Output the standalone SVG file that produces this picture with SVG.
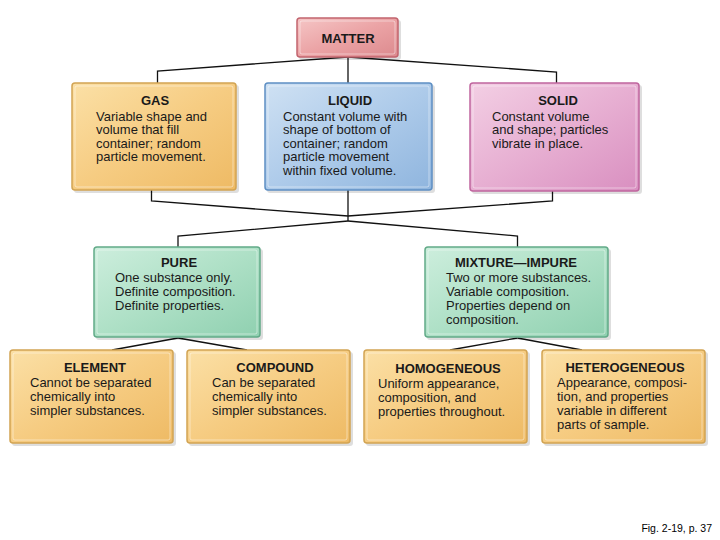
<svg xmlns="http://www.w3.org/2000/svg" width="720" height="540" viewBox="0 0 720 540">
<defs>
<linearGradient id="gY" x1="0" y1="0" x2="1" y2="1">
<stop offset="0" stop-color="#fbe0a6"/><stop offset="0.5" stop-color="#f6cc82"/><stop offset="1" stop-color="#eeba64"/>
</linearGradient>
<linearGradient id="gB" x1="0" y1="0" x2="1" y2="1">
<stop offset="0" stop-color="#cfe1f3"/><stop offset="0.5" stop-color="#aecbea"/><stop offset="1" stop-color="#8fb5de"/>
</linearGradient>
<linearGradient id="gP" x1="0" y1="0" x2="1" y2="1">
<stop offset="0" stop-color="#f3cfe4"/><stop offset="0.5" stop-color="#e7afd2"/><stop offset="1" stop-color="#d98fc0"/>
</linearGradient>
<linearGradient id="gG" x1="0" y1="0" x2="1" y2="1">
<stop offset="0" stop-color="#cdeedd"/><stop offset="0.5" stop-color="#aee0c6"/><stop offset="1" stop-color="#8fd0b0"/>
</linearGradient>
<linearGradient id="gR" x1="0" y1="0" x2="1" y2="1">
<stop offset="0" stop-color="#f5c6c6"/><stop offset="0.5" stop-color="#eba3a5"/><stop offset="1" stop-color="#dc8a8e"/>
</linearGradient>
</defs>
<style>
.sh{fill:#000;opacity:0.13}
.y{fill:url(#gY);stroke:#d2a453;stroke-width:1.5}
.b{fill:url(#gB);stroke:#5d8fc4;stroke-width:1.5}
.p{fill:url(#gP);stroke:#c0659e;stroke-width:1.5}
.g{fill:url(#gG);stroke:#62aa88;stroke-width:1.5}
.r{fill:url(#gR);stroke:#c2646e;stroke-width:1.5}
.in{fill:none;stroke:#fff;stroke-opacity:0.45;stroke-width:1}
text{font-family:"Liberation Sans",Arial,Helvetica,sans-serif;fill:#1a1a1a}
.t{font-size:13px;font-weight:bold;text-anchor:middle}
.d{font-size:13px}
.fig{font-size:10.5px;text-anchor:end;fill:#000}
#connectors path{fill:none;stroke:#111;stroke-width:1.3}
</style>
<rect width="720" height="540" fill="#fff"/>
<g id="connectors">
<path d="M348,57 L157.5,71 L157.5,83"/>
<path d="M348,57 L348,83"/>
<path d="M348,57 L556.5,72 L556.5,83"/>
<path d="M151.5,190 L151.5,201 L348,216"/>
<path d="M552.5,191 L552.5,201 L348,216"/>
<path d="M348,190 L348,221"/>
<path d="M348,221 L178,236 L178,247"/>
<path d="M348,221 L517.5,236 L517.5,247"/>
<path d="M178,338 L112,350"/>
<path d="M178,338 L247,350"/>
<path d="M517.5,338 L450,350"/>
<path d="M517.5,338 L582,350"/>
</g>
<g id="matter">
<rect class="sh" x="299" y="20" width="102" height="40" rx="3"/>
<rect class="r" x="297" y="18" width="101" height="39" rx="3"/>
<rect class="in" x="300" y="21" width="95" height="33" rx="2"/>
<text class="t" x="348" y="43">MATTER</text>
</g>
<g id="gas">
<rect class="sh" x="74" y="85" width="165" height="108" rx="3"/>
<rect class="y" x="72" y="83" width="164" height="107" rx="3"/>
<rect class="in" x="75" y="86" width="158" height="101" rx="2"/>
<text class="t" x="155" y="105">GAS</text>
<text class="d" x="96" y="120.5">Variable shape and</text>
<text class="d" x="96" y="134">volume that fill</text>
<text class="d" x="96" y="147.5">container; random</text>
<text class="d" x="96" y="161">particle movement.</text>
</g>
<g id="liquid">
<rect class="sh" x="267" y="85" width="168" height="108" rx="3"/>
<rect class="b" x="265" y="83" width="167" height="107" rx="3"/>
<rect class="in" x="268" y="86" width="161" height="101" rx="2"/>
<text class="t" x="350" y="105">LIQUID</text>
<text class="d" x="283" y="120.5">Constant volume with</text>
<text class="d" x="283" y="134">shape of bottom of</text>
<text class="d" x="283" y="147.5">container; random</text>
<text class="d" x="283" y="161">particle movement</text>
<text class="d" x="283" y="174.5">within fixed volume.</text>
</g>
<g id="solid">
<rect class="sh" x="472" y="85" width="170" height="109" rx="3"/>
<rect class="p" x="470" y="83" width="169" height="108" rx="3"/>
<rect class="in" x="473" y="86" width="163" height="102" rx="2"/>
<text class="t" x="558" y="105">SOLID</text>
<text class="d" x="492" y="120.5">Constant volume</text>
<text class="d" x="492" y="134">and shape; particles</text>
<text class="d" x="492" y="147.5">vibrate in place.</text>
</g>
<g id="pure">
<rect class="sh" x="96" y="249" width="167" height="91" rx="3"/>
<rect class="g" x="94" y="247" width="166" height="90" rx="3"/>
<rect class="in" x="97" y="250" width="160" height="84" rx="2"/>
<text class="t" x="179" y="267">PURE</text>
<text class="d" x="115" y="282">One substance only.</text>
<text class="d" x="115" y="296">Definite composition.</text>
<text class="d" x="115" y="310">Definite properties.</text>
</g>
<g id="mixture">
<rect class="sh" x="427" y="249" width="184" height="91" rx="3"/>
<rect class="g" x="425" y="247" width="183" height="90" rx="3"/>
<rect class="in" x="428" y="250" width="177" height="84" rx="2"/>
<text class="t" x="516" y="267">MIXTURE—IMPURE</text>
<text class="d" x="446" y="282">Two or more substances.</text>
<text class="d" x="446" y="296">Variable composition.</text>
<text class="d" x="446" y="310">Properties depend on</text>
<text class="d" x="446" y="324">composition.</text>
</g>
<g id="element">
<rect class="sh" x="12" y="352" width="164" height="94" rx="3"/>
<rect class="y" x="10" y="350" width="163" height="93" rx="3"/>
<rect class="in" x="13" y="353" width="157" height="87" rx="2"/>
<text class="t" x="95" y="372">ELEMENT</text>
<text class="d" x="30" y="387">Cannot be separated</text>
<text class="d" x="30" y="401">chemically into</text>
<text class="d" x="30" y="415">simpler substances.</text>
</g>
<g id="compound">
<rect class="sh" x="189" y="352" width="164" height="94" rx="3"/>
<rect class="y" x="187" y="350" width="163" height="93" rx="3"/>
<rect class="in" x="190" y="353" width="157" height="87" rx="2"/>
<text class="t" x="275" y="372">COMPOUND</text>
<text class="d" x="212" y="387">Can be separated</text>
<text class="d" x="212" y="401">chemically into</text>
<text class="d" x="212" y="415">simpler substances.</text>
</g>
<g id="homogeneous">
<rect class="sh" x="366" y="352" width="164" height="94" rx="3"/>
<rect class="y" x="364" y="350" width="163" height="93" rx="3"/>
<rect class="in" x="367" y="353" width="157" height="87" rx="2"/>
<text class="t" x="448" y="372.5">HOMOGENEOUS</text>
<text class="d" x="378" y="388">Uniform appearance,</text>
<text class="d" x="378" y="402">composition, and</text>
<text class="d" x="378" y="416">properties throughout.</text>
</g>
<g id="heterogeneous">
<rect class="sh" x="544" y="352" width="164" height="94" rx="3"/>
<rect class="y" x="542" y="350" width="163" height="93" rx="3"/>
<rect class="in" x="545" y="353" width="157" height="87" rx="2"/>
<text class="t" x="625" y="372">HETEROGENEOUS</text>
<text class="d" x="557" y="387">Appearance, composi-</text>
<text class="d" x="557" y="401">tion, and properties</text>
<text class="d" x="557" y="415">variable in different</text>
<text class="d" x="557" y="429">parts of sample.</text>
</g>
<text class="fig" x="712" y="532">Fig. 2-19, p. 37</text>
</svg>
